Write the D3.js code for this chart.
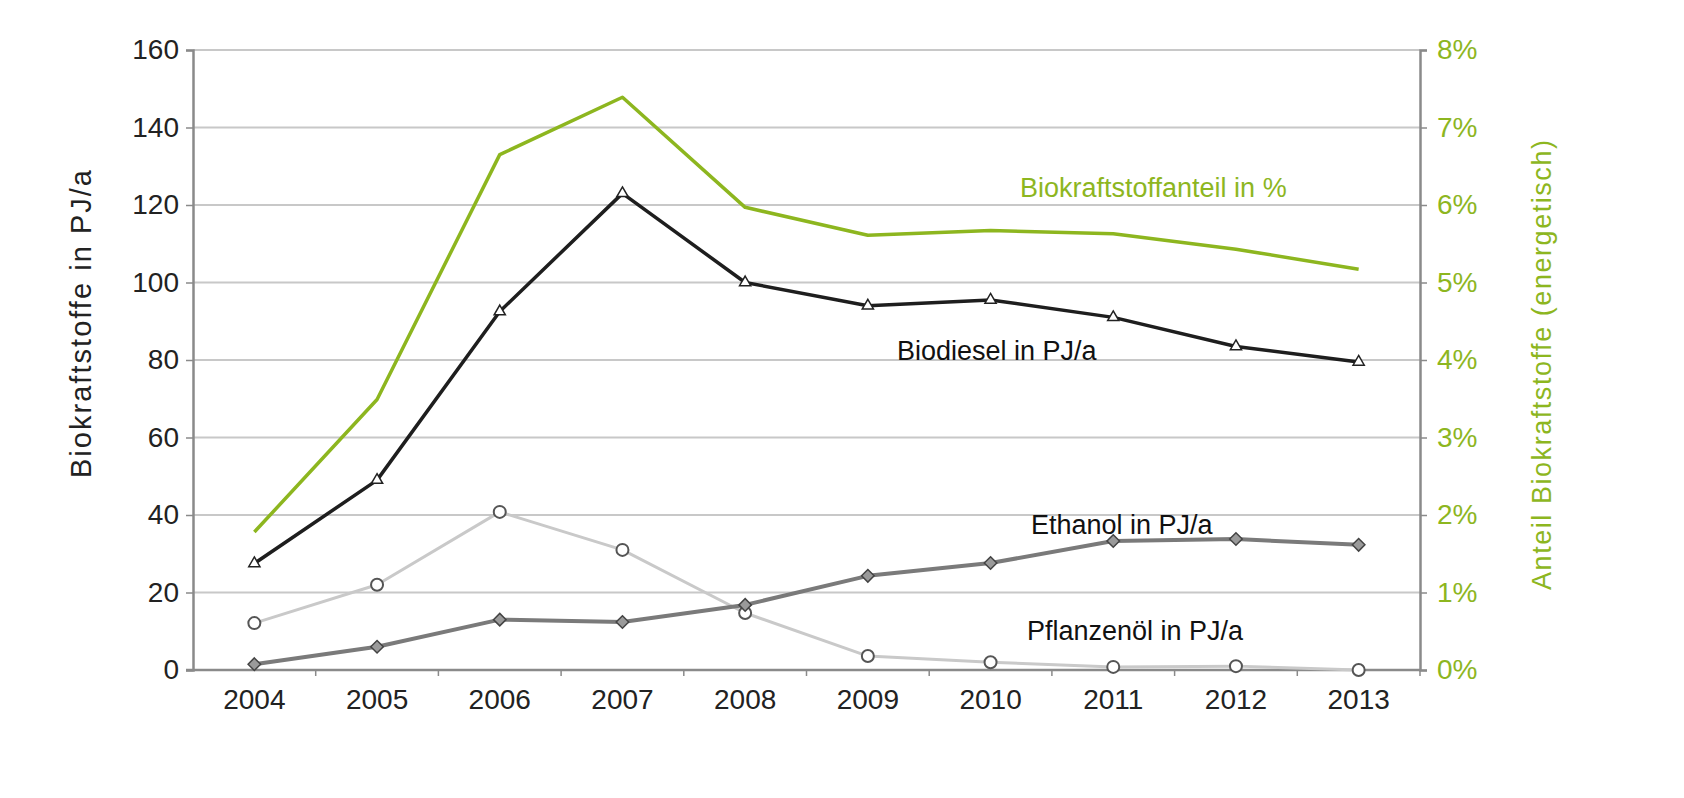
<!DOCTYPE html>
<html>
<head>
<meta charset="utf-8">
<script src="https://cdn.jsdelivr.net/npm/d3@7"></script>
<style>
  body { margin: 0; background: #fff; }
  text { font-family: "Liberation Sans", Arial, sans-serif; }
</style>
</head>
<body>
<div id="chart"></div>
<script>
// data
var years = ["2004", "2005", "2006", "2007", "2008", "2009", "2010", "2011", "2012", "2013"];
var biodiesel = [27.5, 49, 92.5, 123, 100, 94, 95.5, 91, 83.5, 79.5];
var ethanol = [1.5, 6, 13, 12.4, 16.8, 24.3, 27.6, 33.3, 33.8, 32.3];
var pflanzenoel = [12.1, 22, 40.8, 31, 14.7, 3.6, 2, 0.8, 1, 0];
var anteil = [1.78, 3.49, 6.65, 7.39, 5.97, 5.61, 5.67, 5.63, 5.43, 5.17];
var leftTicks = [0, 20, 40, 60, 80, 100, 120, 140, 160];
var rightTicks = [0, 1, 2, 3, 4, 5, 6, 7, 8];

var svgWidth = 1684;
var svgHeight = 798;
var margin = { top: 50, right: 264, bottom: 128, left: 193 };
var width = svgWidth - margin.left - margin.right;
var height = svgHeight - margin.top - margin.bottom;

var green = "#8db61f";
var axisColor = "#8a8a8a";

var svg = d3.select("#chart")
  .append("svg")
  .attr("width", svgWidth)
  .attr("height", svgHeight);

var chartGroup = svg.append("g")
  .attr("transform", `translate(${margin.left}, ${margin.top})`);

var xScale = d3.scaleBand().domain(years).range([0, width]);
var yLeft = d3.scaleLinear().domain([0, 160]).range([height, 0]);
var yRight = d3.scaleLinear().domain([0, 8]).range([height, 0]);
var xPos = d => xScale(d) + xScale.bandwidth() / 2;

// gridlines
chartGroup.append("g")
  .selectAll("line")
  .data(leftTicks.slice(1))
  .enter()
  .append("line")
  .attr("x1", 0)
  .attr("x2", width)
  .attr("y1", d => yLeft(d))
  .attr("y2", d => yLeft(d))
  .attr("stroke", "#c8c8c8")
  .attr("stroke-width", 2);

// left axis
var leftAxis = chartGroup.append("g")
  .call(d3.axisLeft(yLeft).tickValues(leftTicks).tickSize(7).tickPadding(7));

// right axis
var rightAxis = chartGroup.append("g")
  .attr("transform", `translate(${width}, 0)`)
  .call(d3.axisRight(yRight).tickValues(rightTicks).tickSize(7).tickPadding(10).tickFormat(d => d + "%"));

// bottom axis, ticks sit between categories
var bottomAxis = chartGroup.append("g")
  .attr("transform", `translate(0, ${height})`)
  .call(d3.axisBottom(xScale).tickSize(0).tickPadding(19));

bottomAxis.append("g")
  .selectAll("line")
  .data(years)
  .enter()
  .append("line")
  .attr("x1", d => xScale(d) + xScale.bandwidth())
  .attr("x2", d => xScale(d) + xScale.bandwidth())
  .attr("y1", 0)
  .attr("y2", 6)
  .attr("stroke", axisColor)
  .attr("stroke-width", 1.5);

[leftAxis, rightAxis, bottomAxis].forEach(a => {
  a.select(".domain").attr("stroke", axisColor).attr("stroke-width", 2.5);
  a.selectAll(".tick line").attr("stroke", axisColor).attr("stroke-width", 1.5);
  a.selectAll("text").attr("font-size", "28px").attr("fill", "#222");
});
rightAxis.selectAll("text").attr("fill", green);
bottomAxis.select(".domain").attr("d", `M-7,0H${width}`);

// lines
function drawLine(values, scale, color, w) {
  var line = d3.line()
    .x((d, i) => xPos(years[i]))
    .y(d => scale(d));
  chartGroup.append("path")
    .datum(values)
    .attr("d", line)
    .attr("fill", "none")
    .attr("stroke", color)
    .attr("stroke-width", w)
    .attr("stroke-linejoin", "round");
}

drawLine(anteil, yRight, green, 3.5);
drawLine(pflanzenoel, yLeft, "#c9c9c9", 3);
drawLine(ethanol, yLeft, "#7a7a7a", 4);
drawLine(biodiesel, yLeft, "#1e1e1e", 3.5);

// markers
chartGroup.append("g")
  .selectAll("circle")
  .data(pflanzenoel)
  .enter()
  .append("circle")
  .attr("cx", (d, i) => xPos(years[i]))
  .attr("cy", d => yLeft(d))
  .attr("r", 6)
  .attr("fill", "#fff")
  .attr("stroke", "#555")
  .attr("stroke-width", 2);

chartGroup.append("g")
  .selectAll("path")
  .data(ethanol)
  .enter()
  .append("path")
  .attr("d", d3.symbol().type(d3.symbolDiamond2).size(100))
  .attr("transform", (d, i) => `translate(${xPos(years[i])}, ${yLeft(d)})`)
  .attr("fill", "#9a9a9a")
  .attr("stroke", "#444")
  .attr("stroke-width", 1.5);

chartGroup.append("g")
  .selectAll("path")
  .data(biodiesel)
  .enter()
  .append("path")
  .attr("d", d3.symbol().type(d3.symbolTriangle2).size(90))
  .attr("transform", (d, i) => `translate(${xPos(years[i])}, ${yLeft(d)})`)
  .attr("fill", "#fff")
  .attr("stroke", "#222")
  .attr("stroke-width", 1.5);

// series labels
var labels = [
  { t: "Biokraftstoffanteil in %", x: 1020, y: 197, c: green },
  { t: "Biodiesel in PJ/a", x: 897, y: 360, c: "#111" },
  { t: "Ethanol in PJ/a", x: 1031, y: 534, c: "#111" },
  { t: "Pflanzenöl in PJ/a", x: 1027, y: 640, c: "#111" }
];
svg.selectAll(".slabel")
  .data(labels)
  .enter()
  .append("text")
  .attr("class", "slabel")
  .attr("x", d => d.x)
  .attr("y", d => d.y)
  .attr("fill", d => d.c)
  .attr("font-size", "27px")
  .text(d => d.t);

// axis titles
svg.append("text")
  .attr("transform", "translate(91, 324) rotate(-90)")
  .attr("text-anchor", "middle")
  .attr("font-size", "29px")
  .attr("textLength", 308)
  .attr("lengthAdjust", "spacing")
  .attr("fill", "#222")
  .text("Biokraftstoffe in PJ/a");

svg.append("text")
  .attr("transform", `translate(1551, ${margin.top + height / 2 + 5}) rotate(-90)`)
  .attr("text-anchor", "middle")
  .attr("font-size", "27px")
  .attr("textLength", 450)
  .attr("lengthAdjust", "spacing")
  .attr("fill", green)
  .text("Anteil Biokraftstoffe (energetisch)");
</script>
</body>
</html>
